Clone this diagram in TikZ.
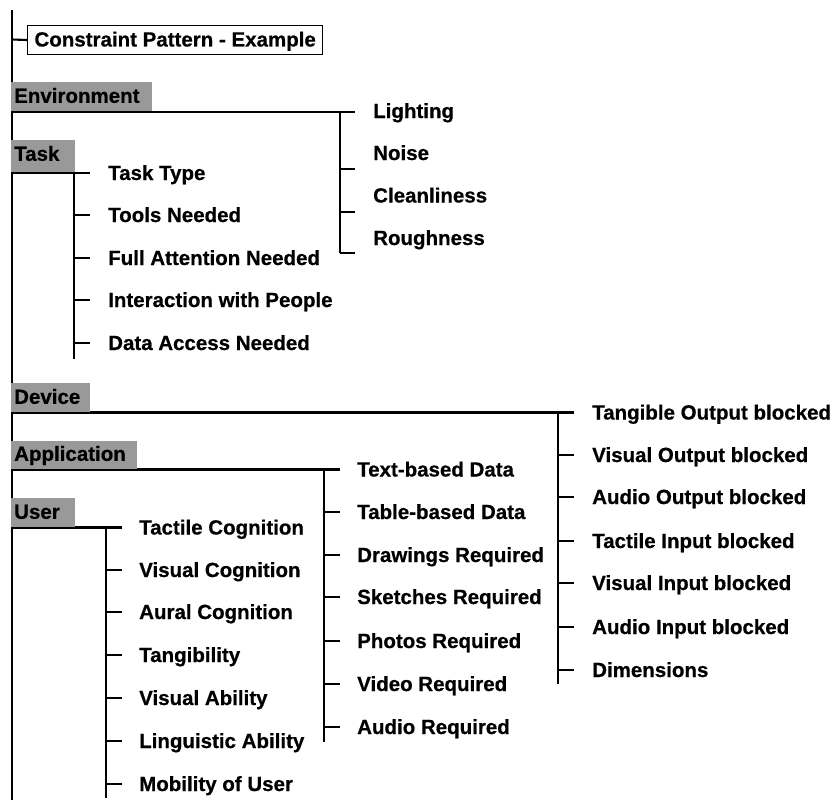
\documentclass[tikz,border=0pt]{standalone}
\usepackage{fontspec}
\setmainfont{Liberation Sans}[BoldFeatures={FakeBold=0.6}]
\definecolor{catgray}{RGB}{153,153,153}
\begin{document}
\begin{tikzpicture}[x=1pt,y=-1pt,
  conn/.style={line width=2.1pt,black},
  itemtext/.style={anchor=west,inner sep=0pt,text height=14pt,text depth=0pt,
    font=\fontsize{20.5}{22}\selectfont\bfseries},
  cat/.style={anchor=south west,fill=catgray,inner xsep=3pt,inner ysep=0pt,
    text height=21pt,text depth=8pt,align=left,
    font=\fontsize{20.5}{22}\selectfont\bfseries}]
\useasboundingbox (0,0) rectangle (838,808);

% spine
\coordinate (spinetop) at (12,10);
\coordinate (spinebot) at (12,800);
\draw[conn] (spinetop) -- (spinebot);

% title box
\node[draw,line width=1pt,anchor=north west,inner xsep=7pt,inner ysep=0pt,
  text height=21pt,text depth=8pt,font=\fontsize{20.5}{22}\selectfont\bfseries]
  (cp) at (27,25) {Constraint Pattern - Example};
\coordinate (cpj) at (12,39.5);
\draw[conn] (cpj) -- (cp.west);

% ---------- Environment ----------
\coordinate (envj) at (340,112);
\coordinate (envend) at (355,112);
\draw[conn] (12,112) -- (envend);
\draw[conn] (envj) -- (340,253);
\foreach \y in {169,212,253} \draw[conn] (340,\y) -- (355,\y);
\node[itemtext] (lighting) at (373,111) {Lighting};
\node[itemtext] (noise) at (373,153) {Noise};
\node[itemtext] (clean) at (373,195.5) {Cleanliness};
\node[itemtext] (rough) at (373,238) {Roughness};
\node[cat,text width=135pt] (env) at (11,111) {Environment};

% ---------- Task ----------
\coordinate (taskj) at (74,172.5);
\draw[conn] (12,172.5) -- (taskj);
\draw[conn] (taskj) -- (74,359);
\foreach \n/\y/\t in {tt/173/Task Type,tn/215/Tools Needed,fa/258/Full Attention Needed,
    ip/300/Interaction with People,da/343/Data Access Needed}{
  \node[itemtext] (\n) at (108,\y) {\t};
  \coordinate (\n-j) at (74,\y);
  \draw[conn] (\n-j) -- ([xshift=-18pt]\n.west);
}
\node[cat,text width=58pt,text height=21pt,text depth=11pt] (task) at (11,172) {Task};

% ---------- Device ----------
\coordinate (devj) at (558,412.5);
\draw[conn] (12,412.5) -- (devj);
\draw[conn] (devj) -- (558,684);
\foreach \n/\y/\t in {d1/412.5/Tangible Output blocked,d2/455/Visual Output blocked,
    d3/497/Audio Output blocked,d4/541/Tactile Input blocked,d5/583/Visual Input blocked,
    d6/627/Audio Input blocked,d7/670/Dimensions}{
  \node[itemtext] (\n) at (592,\y) {\t};
  \coordinate (\n-j) at (558,\y);
  \draw[conn] (\n-j) -- ([xshift=-18pt]\n.west);
}
\node[cat,text width=73pt] (dev) at (11,412) {Device};

% ---------- Application ----------
\coordinate (appj) at (324,469.5);
\draw[conn] (12,469.5) -- (appj);
\draw[conn] (appj) -- (324,742);
\foreach \n/\y/\t in {a1/469.5/Text-based Data,a2/512/Table-based Data,a3/555/Drawings Required,
    a4/597/Sketches Required,a5/641/Photos Required,a6/684/Video Required,a7/727/Audio Required}{
  \node[itemtext] (\n) at (357,\y) {\t};
  \coordinate (\n-j) at (324,\y);
  \draw[conn] (\n-j) -- ([xshift=-17pt]\n.west);
}
\node[cat,text width=120pt,text height=20pt] (app) at (11,469) {Application};

% ---------- User ----------
\coordinate (userj) at (106,527.5);
\draw[conn] (12,527.5) -- (userj);
\draw[conn] (userj) -- (106,798);
\foreach \n/\y/\t in {u1/527.5/Tactile Cognition,u2/570/Visual Cognition,u3/612/Aural Cognition,
    u4/655/Tangibility,u5/698/Visual Ability,u6/741/Linguistic Ability,u7/784/Mobility of User}{
  \node[itemtext] (\n) at (139,\y) {\t};
  \coordinate (\n-j) at (106,\y);
  \draw[conn] (\n-j) -- ([xshift=-17pt]\n.west);
}
\node[cat,text width=58pt] (user) at (11,527) {User};
\end{tikzpicture}
\end{document}
